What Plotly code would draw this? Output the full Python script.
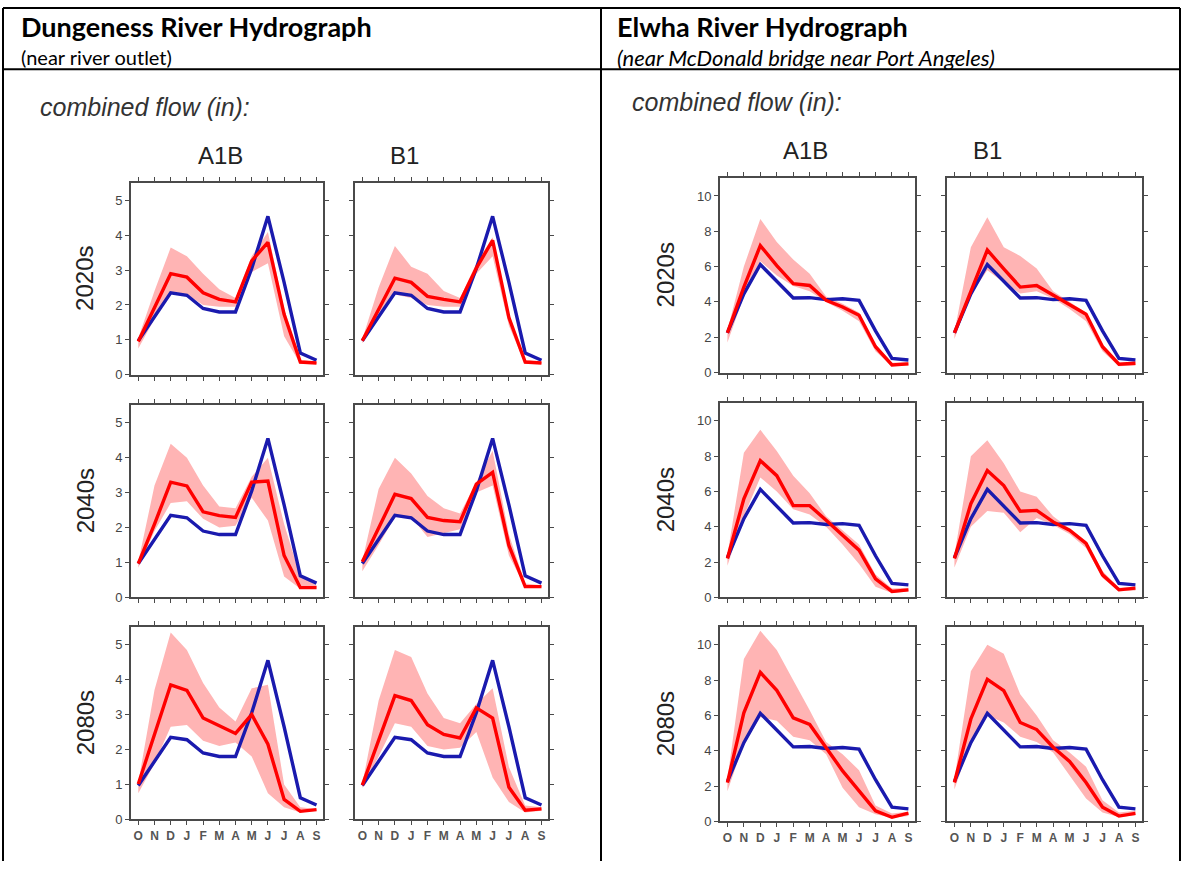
import plotly.graph_objects as go

W, H = 1182, 869

months = ["O", "N", "D", "J", "F", "M", "A", "M", "J", "J", "A", "S"]
periods = ["2020s", "2040s", "2080s"]
scenarios = ["A1B", "B1"]

# Dungeness River, combined flow (in)
dung_hist = [0.97, 1.68, 2.35, 2.28, 1.9, 1.8, 1.8, 3.05, 4.55, 2.65, 0.62, 0.41]

dung_a1b_2020_mid = [0.95, 1.9, 2.9, 2.8, 2.35, 2.16, 2.09, 3.27, 3.8, 1.73, 0.36, 0.33]
dung_a1b_2020_hi = [1.05, 2.4, 3.65, 3.4, 2.9, 2.45, 2.2, 3.4, 4.1, 1.9, 0.42, 0.36]
dung_a1b_2020_lo = [0.75, 1.6, 2.35, 2.3, 2.0, 1.95, 1.95, 2.95, 3.2, 1.1, 0.3, 0.3]

dung_b1_2020_mid = [0.97, 1.85, 2.77, 2.65, 2.25, 2.16, 2.09, 3.06, 3.86, 1.64, 0.36, 0.33]
dung_b1_2020_hi = [1.02, 2.5, 3.7, 3.1, 2.9, 2.4, 2.2, 3.2, 3.95, 1.75, 0.42, 0.36]
dung_b1_2020_lo = [0.9, 1.6, 2.3, 2.2, 2.0, 1.95, 1.95, 2.9, 3.4, 1.4, 0.3, 0.3]

dung_a1b_2040_mid = [0.97, 2.1, 3.3, 3.19, 2.45, 2.34, 2.29, 3.3, 3.33, 1.2, 0.28, 0.28]
dung_a1b_2040_hi = [1.02, 3.2, 4.4, 4.0, 3.2, 2.6, 2.55, 3.45, 4.0, 2.1, 0.6, 0.35]
dung_a1b_2040_lo = [0.85, 1.9, 2.7, 2.75, 2.25, 2.0, 2.05, 2.85, 2.2, 0.6, 0.25, 0.25]

dung_b1_2040_mid = [1.02, 2.0, 2.95, 2.83, 2.29, 2.2, 2.17, 3.24, 3.58, 1.49, 0.31, 0.31]
dung_b1_2040_hi = [1.05, 3.1, 4.0, 3.55, 2.9, 2.55, 2.4, 3.3, 4.2, 1.8, 0.4, 0.35]
dung_b1_2040_lo = [0.75, 1.5, 2.3, 2.3, 1.73, 1.85, 1.95, 3.0, 3.2, 1.2, 0.3, 0.3]

dung_a1b_2080_mid = [1.01, 2.4, 3.85, 3.69, 2.9, 2.68, 2.46, 3.0, 2.15, 0.57, 0.23, 0.28]
dung_a1b_2080_hi = [1.05, 3.7, 5.35, 4.85, 3.9, 3.2, 2.8, 3.75, 3.85, 1.0, 0.35, 0.3]
dung_a1b_2080_lo = [0.75, 1.6, 2.65, 2.7, 2.25, 2.1, 2.2, 1.8, 0.75, 0.35, 0.2, 0.25]

dung_b1_2080_mid = [0.98, 2.25, 3.54, 3.4, 2.71, 2.43, 2.33, 3.19, 2.9, 0.92, 0.26, 0.3]
dung_b1_2080_hi = [1.02, 3.4, 4.85, 4.65, 3.6, 2.9, 2.75, 3.3, 3.75, 1.5, 0.4, 0.35]
dung_b1_2080_lo = [0.9, 1.8, 2.75, 2.65, 2.1, 2.0, 2.05, 2.5, 1.2, 0.5, 0.2, 0.25]

# Elwha River, combined flow (in)
elwha_hist = [2.25, 4.46, 6.12, 5.2, 4.22, 4.24, 4.13, 4.18, 4.09, 2.36, 0.8, 0.71]

elwha_a1b_2020_mid = [2.25, 4.84, 7.19, 6.06, 5.03, 4.93, 4.09, 3.71, 3.25, 1.46, 0.43, 0.49]
elwha_a1b_2020_hi = [2.4, 6.0, 8.7, 7.4, 6.4, 5.6, 4.3, 3.9, 3.4, 1.6, 0.55, 0.6]
elwha_a1b_2020_lo = [1.7, 4.3, 6.3, 5.5, 4.9, 4.6, 4.0, 3.5, 2.9, 1.2, 0.35, 0.4]

elwha_b1_2020_mid = [2.25, 4.65, 6.94, 5.87, 4.84, 4.93, 4.37, 3.81, 3.3, 1.46, 0.47, 0.53]
elwha_b1_2020_hi = [2.3, 7.1, 8.8, 7.1, 6.6, 5.9, 4.6, 4.0, 3.4, 1.6, 0.55, 0.6]
elwha_b1_2020_lo = [1.9, 4.4, 5.8, 5.1, 4.47, 4.6, 4.2, 3.6, 2.9, 1.2, 0.35, 0.4]

elwha_a1b_2040_mid = [2.21, 5.59, 7.75, 6.9, 5.2, 5.2, 4.37, 3.53, 2.68, 1.05, 0.34, 0.43]
elwha_a1b_2040_hi = [2.4, 8.2, 9.5, 8.3, 6.9, 5.9, 4.6, 3.8, 3.0, 1.3, 0.5, 0.55]
elwha_a1b_2040_lo = [1.8, 4.6, 6.8, 6.0, 5.0, 4.7, 4.0, 3.0, 1.9, 0.6, 0.25, 0.35]

elwha_b1_2040_mid = [2.21, 5.31, 7.19, 6.34, 4.88, 4.93, 4.28, 3.81, 3.06, 1.28, 0.43, 0.53]
elwha_b1_2040_hi = [2.4, 8.0, 8.9, 7.6, 6.0, 5.7, 4.6, 3.9, 3.2, 1.5, 0.55, 0.6]
elwha_b1_2040_lo = [1.7, 4.0, 4.9, 4.8, 3.7, 4.5, 4.1, 3.6, 2.8, 1.1, 0.35, 0.4]

elwha_a1b_2080_mid = [2.2, 6.15, 8.44, 7.42, 5.86, 5.49, 4.17, 2.86, 1.73, 0.6, 0.23, 0.47]
elwha_a1b_2080_hi = [2.4, 9.2, 10.8, 9.7, 8.0, 6.3, 4.5, 3.8, 2.9, 0.9, 0.45, 0.55]
elwha_a1b_2080_lo = [1.7, 4.4, 5.9, 5.7, 4.8, 4.6, 3.8, 1.9, 0.8, 0.4, 0.2, 0.3]

elwha_b1_2080_mid = [2.2, 5.8, 8.05, 7.4, 5.6, 5.2, 4.2, 3.4, 2.2, 0.8, 0.3, 0.45]
elwha_b1_2080_hi = [2.4, 8.5, 10.0, 9.5, 7.2, 6.0, 4.6, 3.9, 3.1, 1.2, 0.5, 0.6]
elwha_b1_2080_lo = [1.8, 4.5, 6.0, 5.6, 4.8, 4.5, 3.9, 2.6, 1.3, 0.5, 0.25, 0.35]

dung_runs = [
    [(dung_a1b_2020_mid, dung_a1b_2020_hi, dung_a1b_2020_lo),
     (dung_b1_2020_mid, dung_b1_2020_hi, dung_b1_2020_lo)],
    [(dung_a1b_2040_mid, dung_a1b_2040_hi, dung_a1b_2040_lo),
     (dung_b1_2040_mid, dung_b1_2040_hi, dung_b1_2040_lo)],
    [(dung_a1b_2080_mid, dung_a1b_2080_hi, dung_a1b_2080_lo),
     (dung_b1_2080_mid, dung_b1_2080_hi, dung_b1_2080_lo)],
]
elwha_runs = [
    [(elwha_a1b_2020_mid, elwha_a1b_2020_hi, elwha_a1b_2020_lo),
     (elwha_b1_2020_mid, elwha_b1_2020_hi, elwha_b1_2020_lo)],
    [(elwha_a1b_2040_mid, elwha_a1b_2040_hi, elwha_a1b_2040_lo),
     (elwha_b1_2040_mid, elwha_b1_2040_hi, elwha_b1_2040_lo)],
    [(elwha_a1b_2080_mid, elwha_a1b_2080_hi, elwha_a1b_2080_lo),
     (elwha_b1_2080_mid, elwha_b1_2080_hi, elwha_b1_2080_lo)],
]

# pixel geometry of the two panel grids
rivers = [
    dict(hist=dung_hist, runs=dung_runs, ymax=5.5, dtick=1,
         cols=[(131, 323), (355, 548)], rows=[(185, 378), (409, 603), (633, 827)],
         label_x=85, flow_x=38, flow_y=108, scen_x=[220, 405], scen_y=157),
    dict(hist=elwha_hist, runs=elwha_runs, ymax=11, dtick=2,
         cols=[(720, 915), (947, 1142)], rows=[(180, 376), (407, 603), (633, 829)],
         label_x=665, flow_x=630, flow_y=103, scen_x=[805, 987], scen_y=152),
]

RED = "#ff0000"
BLUE = "#1a1aae"
BAND = "#ffb4b4"
AXIS = "#4a4a4a"
FONT = "Liberation Sans"


def fx(p):
    return p / W


def fy(p):
    return 1 - p / H


def note(text, x, y, size, xanchor="center", family=FONT, color="#222222", angle=0):
    # annotation placed by pixel position; anchors are always explicit
    return dict(text=text, x=fx(x), y=fy(y), xref="paper", yref="paper",
                xanchor=xanchor, yanchor="middle", showarrow=False, textangle=angle,
                font=dict(family=family, size=size, color=color))


fig = go.Figure()
layout = {}
annotations = []
k = 0
x_idx = list(range(len(months)))

for river in rivers:
    for r, period in enumerate(periods):
        for c, scen in enumerate(scenarios):
            k += 1
            xa = "x" if k == 1 else f"x{k}"
            ya = "y" if k == 1 else f"y{k}"
            mid, hi, lo = river["runs"][r][c]

            fig.add_trace(go.Scatter(x=x_idx, y=lo, mode="lines", line=dict(width=0, color=BAND),
                                     xaxis=xa, yaxis=ya, hoverinfo="skip", showlegend=False))
            fig.add_trace(go.Scatter(x=x_idx, y=hi, mode="lines", line=dict(width=0, color=BAND),
                                     fill="tonexty", fillcolor=BAND,
                                     xaxis=xa, yaxis=ya, hoverinfo="skip", showlegend=False))
            fig.add_trace(go.Scatter(x=x_idx, y=river["hist"], mode="lines",
                                     line=dict(width=3.4, color=BLUE),
                                     xaxis=xa, yaxis=ya, showlegend=False))
            fig.add_trace(go.Scatter(x=x_idx, y=mid, mode="lines",
                                     line=dict(width=3.4, color=RED),
                                     xaxis=xa, yaxis=ya, showlegend=False))

            x0, x1 = river["cols"][c]
            y0, y1 = river["rows"][r]
            common = dict(showgrid=False, zeroline=False, showline=True, linecolor=AXIS,
                          linewidth=2, mirror="ticks", ticks="outside", ticklen=4,
                          tickwidth=1, tickcolor=AXIS, fixedrange=True)
            layout["xaxis" if k == 1 else f"xaxis{k}"] = dict(
                common, domain=[fx(x0), fx(x1)], anchor=ya, range=[-0.45, 11.4],
                tickmode="array", tickvals=x_idx, ticktext=months,
                showticklabels=(r == 2),
                tickfont=dict(family=FONT, size=12, color="#555555", weight="bold"))
            layout["yaxis" if k == 1 else f"yaxis{k}"] = dict(
                common, domain=[fy(y1), fy(y0)], anchor=xa, range=[0, river["ymax"]],
                dtick=river["dtick"], showticklabels=(c == 0),
                tickfont=dict(family=FONT, size=13, color="#444444"))

            if c == 0:
                annotations.append(note(period, river["label_x"], (y0 + y1) / 2, 24, angle=-90))

    annotations.append(note("<i>combined flow (in):</i>", river["flow_x"], river["flow_y"], 25,
                            xanchor="left", color="#333333"))
    for sx, scen in zip(river["scen_x"], scenarios):
        annotations.append(note(scen, sx, river["scen_y"], 24))

# table header text
HEAD = "Lato"
annotations += [
    note("<b>Dungeness River Hydrograph</b>", 19, 27, 27, "left", HEAD, "black"),
    note("(near river outlet)", 19, 58, 20, "left", HEAD, "black"),
    note("<b>Elwha River Hydrograph</b>", 615, 27, 27, "left", HEAD, "black"),
    note("<i>(near McDonald bridge near Port Angeles)</i>", 615, 58, 22, "left", HEAD, "black"),
]

# table rules
shapes = []
for (xa0, ya0, xa1, ya1) in [(3, 8, 1180, 8), (3, 70, 1180, 70), (3, 8, 3, H),
                              (601, 8, 601, H), (1180, 8, 1180, H)]:
    shapes.append(dict(type="line", xref="paper", yref="paper",
                       x0=fx(xa0), y0=fy(ya0), x1=fx(xa1), y1=fy(ya1),
                       line=dict(color="black", width=2)))

fig.update_layout(
    width=W, height=H, margin=dict(l=0, r=0, t=0, b=0),
    paper_bgcolor="white", plot_bgcolor="white",
    annotations=annotations, shapes=shapes, showlegend=False,
    **layout,
)

# drop the browser's default 8px body margin so the figure sits at the page origin
fig.write_html("out.html", config={"displayModeBar": False},
               post_script="document.body.style.margin = '0';")
